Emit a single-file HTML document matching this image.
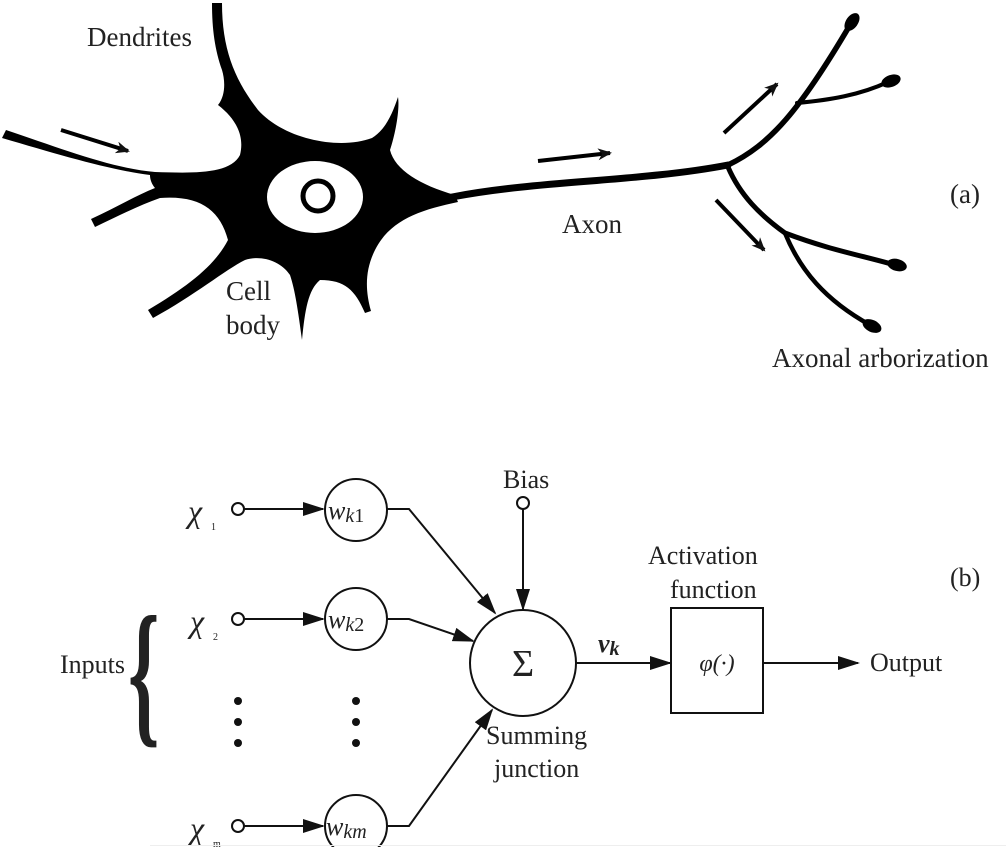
<!DOCTYPE html>
<html><head><meta charset="utf-8"><style>
html,body{margin:0;padding:0;background:#fff;}
svg{display:block;}
text{font-family:"Liberation Serif",serif;fill:#222;}
</style></head><body>
<svg width="1006" height="847" viewBox="0 0 1006 847" xmlns="http://www.w3.org/2000/svg">
<defs>
<marker id="ah" markerWidth="14" markerHeight="12" refX="12" refY="6" orient="auto" markerUnits="userSpaceOnUse" viewBox="0 0 14 12">
<path d="M0,0 L14,6 L0,12 L4,6 Z" fill="#111"/></marker>
<marker id="ab" markerWidth="22" markerHeight="14" refX="20" refY="7" orient="auto" markerUnits="userSpaceOnUse" viewBox="0 0 22 14">
<path d="M0,0 L22,7 L0,14 Z" fill="#111"/></marker>
</defs>
<g fill="#000" stroke="none">
<path d="M212,3 L222,3 C222,50 235,80 258,110 C285,140 340,150 372,138 C385,130 392,115 398,97 C400,110 395,135 390,150 C395,170 420,185 455,195 L458,202 C420,210 390,220 375,250 C365,270 365,290 371,311 L365,313 C355,290 345,280 320,280 C308,290 305,310 302,340 C298,310 295,290 290,275 C280,260 260,255 245,260 C225,270 195,295 153,318 L148,310 C190,285 215,265 228,240 C220,210 200,195 160,198 C140,205 120,215 95,227 L91,219 C115,208 135,196 155,188 C150,182 150,176 150,175 C110,170 60,155 2,138 L6,130 C60,148 110,168 155,172 C190,173 230,175 240,155 C245,135 235,118 218,105 C226,95 225,80 222,70 C215,50 212,30 212,3 Z"/>
</g>
<ellipse cx="315" cy="197" rx="48" ry="36" fill="#fff"/>
<circle cx="318" cy="196" r="15" fill="none" stroke="#000" stroke-width="5"/>
<g fill="none" stroke="#000" stroke-linecap="round">
<path d="M452,197 C540,180 640,182 728,165" stroke-width="7"/>
<path d="M728,165 C770,145 800,110 850,25" stroke-width="5.5"/>
<path d="M797,103 C830,100 860,95 888,82" stroke-width="4"/>
<path d="M728,167 C740,195 760,215 785,233 C830,250 860,255 895,265" stroke-width="5"/>
<path d="M785,233 C800,270 825,300 870,325" stroke-width="4.5"/>
</g>
<g fill="#000">
<ellipse cx="852" cy="22" rx="6" ry="10" transform="rotate(35 852 22)"/>
<ellipse cx="891" cy="81" rx="10" ry="6" transform="rotate(-20 891 81)"/>
<ellipse cx="897" cy="265" rx="10" ry="6" transform="rotate(15 897 265)"/>
<ellipse cx="872" cy="326" rx="10" ry="6" transform="rotate(25 872 326)"/>
</g>
<g stroke="#000" stroke-width="4" fill="none">
<line x1="61" y1="130" x2="128" y2="151" marker-end="url(#ah)"/>
<line x1="538" y1="161" x2="610" y2="153" marker-end="url(#ah)"/>
<line x1="724" y1="133" x2="777" y2="84" marker-end="url(#ah)"/>
<line x1="716" y1="200" x2="764" y2="250" marker-end="url(#ah)"/>
</g>
<text x="87" y="46" font-size="27">Dendrites</text>
<text x="226" y="300" font-size="27">Cell</text>
<text x="226" y="334" font-size="27">body</text>
<text x="562" y="233" font-size="27">Axon</text>
<text x="950" y="203" font-size="27">(a)</text>
<text x="772" y="367" font-size="27">Axonal arborization</text>
<g stroke="#111" stroke-width="2" fill="none">
<circle cx="238" cy="509" r="6"/>
<circle cx="238" cy="619" r="6"/>
<circle cx="238" cy="826" r="6"/>
<circle cx="523" cy="503" r="6"/>
<circle cx="356" cy="510" r="31"/>
<circle cx="356" cy="619" r="31"/>
<circle cx="356" cy="826" r="31"/>
<circle cx="523" cy="663" r="53"/>
<rect x="671" y="608" width="92" height="105"/>
<line x1="244" y1="509" x2="323" y2="509" marker-end="url(#ab)"/>
<line x1="244" y1="619" x2="323" y2="619" marker-end="url(#ab)"/>
<line x1="244" y1="826" x2="323" y2="826" marker-end="url(#ab)"/>
<polyline points="387,509 409,509 495,613" marker-end="url(#ab)"/>
<polyline points="387,619 409,619 473,641" marker-end="url(#ab)"/>
<polyline points="387,826 409,826 492,710" marker-end="url(#ab)"/>
<line x1="523" y1="509" x2="523" y2="609" marker-end="url(#ab)"/>
<line x1="576" y1="663" x2="670" y2="663" marker-end="url(#ab)"/>
<line x1="763" y1="663" x2="858" y2="663" marker-end="url(#ab)"/>
</g>
<g fill="#111">
<circle cx="238" cy="701" r="4"/><circle cx="238" cy="722" r="4"/><circle cx="238" cy="743" r="4"/>
<circle cx="356" cy="701" r="4"/><circle cx="356" cy="722" r="4"/><circle cx="356" cy="743" r="4"/>
</g>
<text x="0" y="0" font-size="160" font-weight="bold" fill="#000" transform="translate(128,726) scale(0.5,1)">{</text>
<text x="60" y="673" font-size="26">Inputs</text>
<text x="188" y="522" font-size="32" font-style="italic">χ</text><text x="211" y="530" font-size="10">1</text>
<text x="190" y="632" font-size="32" font-style="italic">χ</text><text x="213" y="640" font-size="10">2</text>
<text x="190" y="839" font-size="32" font-style="italic">χ</text><text x="213" y="847" font-size="10">m</text>
<text x="328" y="519" font-size="26" font-style="italic">w<tspan font-size="20" dy="3">k</tspan><tspan font-size="20" font-style="normal">1</tspan></text>
<text x="328" y="628" font-size="26" font-style="italic">w<tspan font-size="20" dy="3">k</tspan><tspan font-size="20" font-style="normal">2</tspan></text>
<text x="326" y="835" font-size="26" font-style="italic">w<tspan font-size="20" dy="3">km</tspan></text>
<text x="523" y="676" font-size="38" text-anchor="middle">Σ</text>
<text x="503" y="488" font-size="26">Bias</text>
<text x="598" y="652" font-size="26" font-style="italic" font-weight="bold">v<tspan font-size="20" dy="3">k</tspan></text>
<text x="486" y="744" font-size="26">Summing</text>
<text x="494" y="777" font-size="26">junction</text>
<text x="648" y="564" font-size="26">Activation</text>
<text x="670" y="598" font-size="26">function</text>
<text x="717" y="671" font-size="24" text-anchor="middle" font-style="italic">φ(·)</text>
<text x="870" y="671" font-size="26">Output</text>
<text x="950" y="586" font-size="26">(b)</text>
<line x1="150" y1="845.5" x2="1006" y2="845.5" stroke="#eee" stroke-width="1"/>
</svg>
</body></html>
